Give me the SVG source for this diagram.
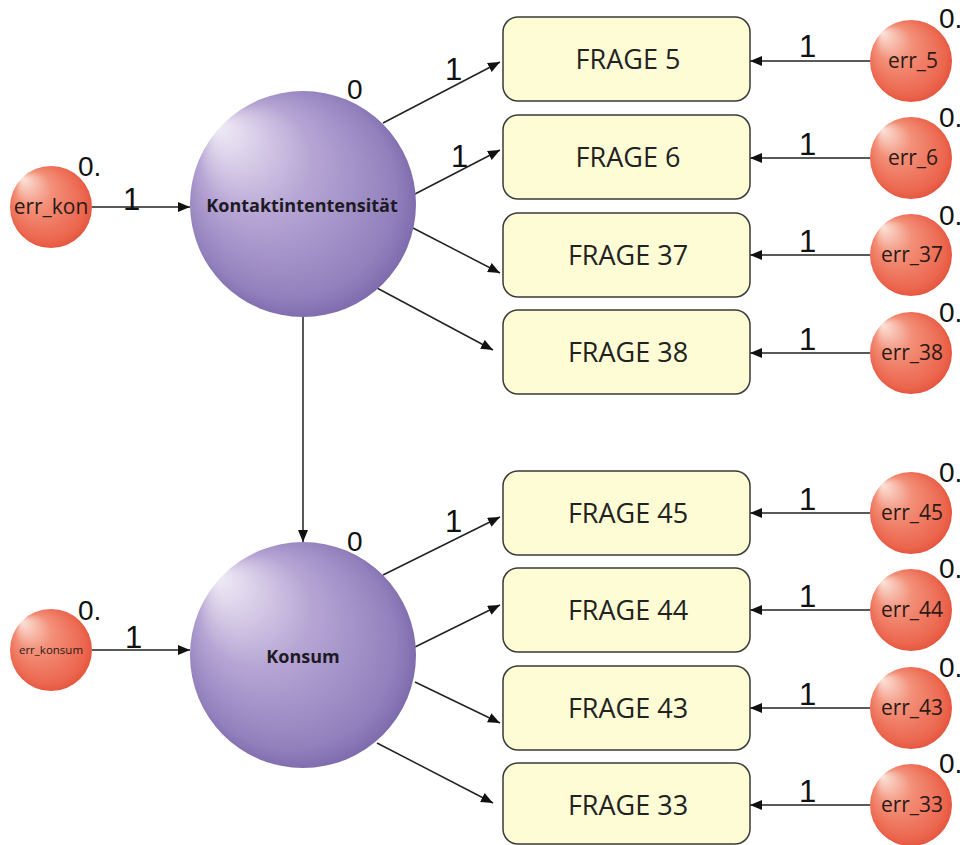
<svg xmlns="http://www.w3.org/2000/svg" width="960" height="845" viewBox="0 0 960 845">
  <defs>
    <radialGradient id="latentFill" cx="0.5" cy="0.5" r="0.55" fx="0.12" fy="0.15">
      <stop offset="0" stop-color="#f1ecf6"/>
      <stop offset="0.45" stop-color="#b6a5d4"/>
      <stop offset="0.85" stop-color="#9280bd"/>
      <stop offset="1" stop-color="#7562a6"/>
    </radialGradient>
    <radialGradient id="errFill" cx="0.5" cy="0.5" r="0.55" fx="0.15" fy="0.15">
      <stop offset="0" stop-color="#fbe3da"/>
      <stop offset="0.4" stop-color="#f39079"/>
      <stop offset="0.85" stop-color="#ec664e"/>
      <stop offset="1" stop-color="#e24e37"/>
    </radialGradient>
    <marker id="arrow" viewBox="0 0 12 10" refX="12" refY="5" markerWidth="12" markerHeight="10" markerUnits="userSpaceOnUse" orient="auto">
      <path d="M0,0 L12,5 L0,10 Z" fill="#111"/>
    </marker>
    <style>
      .edge { stroke: #222; stroke-width: 1.5; fill: none; marker-end: url(#arrow); }
      .box { fill: #fefcd4; stroke: #3a3a3a; stroke-width: 1.5; }
      .boxText { font-family: "Open Sans", "Liberation Sans", sans-serif; font-size: 27px; fill: #222; text-anchor: middle; }
      .latentText { font-family: "Open Sans", "Liberation Sans", sans-serif; font-size: 18px; font-weight: 700; fill: #1e1a24; text-anchor: middle; }
      .errText { font-family: "Open Sans", "Liberation Sans", sans-serif; font-size: 21px; fill: #2a1a16; text-anchor: middle; }
      .num { font-family: "Liberation Sans", Arial, sans-serif; font-size: 31px; fill: #111; }
      .var { font-family: "Liberation Sans", Arial, sans-serif; font-size: 28px; fill: #111; }
    </style>
  </defs>

  <rect x="0" y="0" width="960" height="845" fill="#ffffff"/>

  <!-- connectors -->
  <g id="connectors">
    <line class="edge" x1="92" y1="207" x2="190" y2="207"/>
    <line class="edge" x1="92" y1="650" x2="190" y2="650"/>
    <line class="edge" x1="303" y1="317" x2="303" y2="542"/>

    <line class="edge" x1="383" y1="123" x2="500" y2="62"/>
    <line class="edge" x1="415" y1="194" x2="500" y2="150"/>
    <line class="edge" x1="413" y1="228" x2="500" y2="273"/>
    <line class="edge" x1="377" y1="288" x2="493" y2="350"/>

    <line class="edge" x1="383" y1="575" x2="500" y2="517"/>
    <line class="edge" x1="415" y1="647" x2="500" y2="605"/>
    <line class="edge" x1="415" y1="682" x2="500" y2="723"/>
    <line class="edge" x1="377" y1="743" x2="493" y2="803"/>

    <line class="edge" x1="870" y1="61" x2="750" y2="61"/>
    <line class="edge" x1="870" y1="158" x2="750" y2="158"/>
    <line class="edge" x1="870" y1="255" x2="750" y2="255"/>
    <line class="edge" x1="870" y1="353" x2="750" y2="353"/>
    <line class="edge" x1="870" y1="513" x2="750" y2="513"/>
    <line class="edge" x1="870" y1="610" x2="750" y2="610"/>
    <line class="edge" x1="870" y1="708" x2="750" y2="708"/>
    <line class="edge" x1="870" y1="805" x2="750" y2="805"/>

    <!-- path weights -->
    <text class="num" x="123" y="210">1</text>
    <text class="num" x="125" y="648">1</text>
    <text class="num" x="445" y="80">1</text>
    <text class="num" x="451" y="167">1</text>
    <text class="num" x="445" y="532">1</text>
    <text class="num" x="799" y="57">1</text>
    <text class="num" x="799" y="155">1</text>
    <text class="num" x="799" y="252">1</text>
    <text class="num" x="799" y="350">1</text>
    <text class="num" x="799" y="510">1</text>
    <text class="num" x="799" y="607">1</text>
    <text class="num" x="799" y="705">1</text>
    <text class="num" x="799" y="802">1</text>
  </g>

  <!-- latent variables -->
  <g id="kontaktintensitaet">
    <circle cx="303" cy="204" r="113" fill="url(#latentFill)"/>
    <text class="latentText" x="302" y="212">Kontaktintentensität</text>
    <text class="var" x="347" y="99">0</text>
  </g>
  <g id="konsum">
    <circle cx="303" cy="655" r="113" fill="url(#latentFill)"/>
    <text class="latentText" x="303" y="663">Konsum</text>
    <text class="var" x="347" y="551">0</text>
  </g>

  <!-- disturbances of latent variables -->
  <g id="err_kon">
    <circle cx="51" cy="207" r="41" fill="url(#errFill)"/>
    <text class="errText" x="51" y="214" font-size="19">err_kon</text>
    <text class="var" x="78" y="176">0.</text>
  </g>
  <g id="err_konsum">
    <circle cx="51" cy="650" r="41" fill="url(#errFill)"/>
    <text class="errText" x="51" y="654" style="font-size:11.5px">err_konsum</text>
    <text class="var" x="78" y="620">0.</text>
  </g>

  <!-- observed items -->
  <g id="frage5">
    <rect class="box" x="503" y="17" width="247" height="84" rx="15"/>
    <text class="boxText" x="628" y="69">FRAGE 5</text>
  </g>
  <g id="frage6">
    <rect class="box" x="503" y="115" width="247" height="84" rx="15"/>
    <text class="boxText" x="628" y="167">FRAGE 6</text>
  </g>
  <g id="frage37">
    <rect class="box" x="503" y="213" width="247" height="84" rx="15"/>
    <text class="boxText" x="628" y="265">FRAGE 37</text>
  </g>
  <g id="frage38">
    <rect class="box" x="503" y="310" width="247" height="84" rx="15"/>
    <text class="boxText" x="628" y="362">FRAGE 38</text>
  </g>
  <g id="frage45">
    <rect class="box" x="503" y="471" width="247" height="84" rx="15"/>
    <text class="boxText" x="628" y="523">FRAGE 45</text>
  </g>
  <g id="frage44">
    <rect class="box" x="503" y="568" width="247" height="84" rx="15"/>
    <text class="boxText" x="628" y="620">FRAGE 44</text>
  </g>
  <g id="frage43">
    <rect class="box" x="503" y="666" width="247" height="84" rx="15"/>
    <text class="boxText" x="628" y="718">FRAGE 43</text>
  </g>
  <g id="frage33">
    <rect class="box" x="503" y="763" width="247" height="81" rx="15"/>
    <text class="boxText" x="628" y="815">FRAGE 33</text>
  </g>

  <!-- item error terms -->
  <g id="err_5">
    <circle cx="911" cy="61" r="41" fill="url(#errFill)"/>
    <text class="errText" x="913" y="68">err_5</text>
    <text class="var" x="939" y="28">0.</text>
  </g>
  <g id="err_6">
    <circle cx="911" cy="158" r="41" fill="url(#errFill)"/>
    <text class="errText" x="913" y="165">err_6</text>
    <text class="var" x="939" y="127">0.</text>
  </g>
  <g id="err_37">
    <circle cx="911" cy="255" r="41" fill="url(#errFill)"/>
    <text class="errText" x="912" y="262">err_37</text>
    <text class="var" x="939" y="225">0.</text>
  </g>
  <g id="err_38">
    <circle cx="911" cy="353" r="41" fill="url(#errFill)"/>
    <text class="errText" x="912" y="360">err_38</text>
    <text class="var" x="939" y="322">0.</text>
  </g>
  <g id="err_45">
    <circle cx="911" cy="513" r="41" fill="url(#errFill)"/>
    <text class="errText" x="912" y="520">err_45</text>
    <text class="var" x="939" y="482">0.</text>
  </g>
  <g id="err_44">
    <circle cx="911" cy="610" r="41" fill="url(#errFill)"/>
    <text class="errText" x="912" y="617">err_44</text>
    <text class="var" x="939" y="578">0.</text>
  </g>
  <g id="err_43">
    <circle cx="911" cy="708" r="41" fill="url(#errFill)"/>
    <text class="errText" x="912" y="715">err_43</text>
    <text class="var" x="939" y="677">0.</text>
  </g>
  <g id="err_33">
    <circle cx="911" cy="805" r="41" fill="url(#errFill)"/>
    <text class="errText" x="912" y="812">err_33</text>
    <text class="var" x="939" y="773">0.</text>
  </g>
</svg>
